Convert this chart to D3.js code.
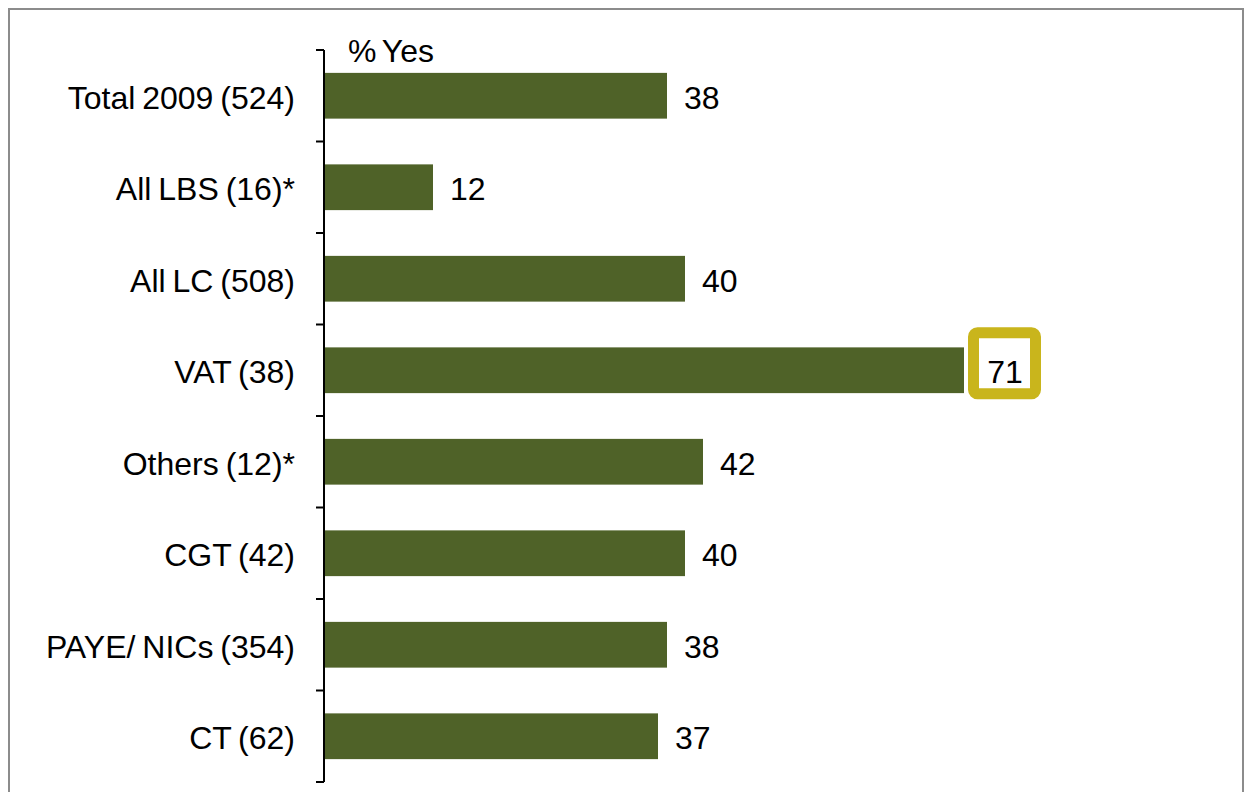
<!DOCTYPE html>
<html><head><meta charset="utf-8">
<script src="https://cdn.jsdelivr.net/npm/d3@7"></script>
<style>body{margin:0;background:#fff}svg{display:block}text{font-family:"Liberation Sans",Arial,sans-serif}</style>
</head><body>
<script>
const categories = ["Total 2009 (524)","All LBS (16)*","All LC (508)","VAT (38)","Others (12)*","CGT (42)","PAYE/ NICs (354)","CT (62)"];
const values = [38,12,40,71,42,40,38,37];
const highlighted = ["VAT (38)"];
const axisTitle = "% Yes";

const W=1250,H=792,FS=32;
const svg=d3.select("body").append("svg").attr("width",W).attr("height",H);
svg.append("rect").attr("x",9).attr("y",9).attr("width",1234).attr("height",820)
  .attr("fill","none").attr("stroke","#8c8c8c").attr("stroke-width",2);

const x=d3.scaleLinear().domain([0,100]).range([325,1225]);
const y=d3.scaleBand().domain(categories).range([50,782]).paddingInner(0.5).paddingOuter(0.25);

const step=y.step();
const bounds=d3.range(categories.length+1).map(i=>50+i*step);
svg.append("line").attr("x1",324).attr("x2",324).attr("y1",50).attr("y2",782).attr("stroke","#000").attr("stroke-width",2);
svg.selectAll(".tk").data(bounds).enter().append("line").attr("x1",316).attr("x2",324)
  .attr("y1",d=>d).attr("y2",d=>d).attr("stroke","#000").attr("stroke-width",2);

svg.selectAll(".bar").data(categories).enter().append("rect")
  .attr("x",x(0)).attr("y",d=>y(d)).attr("height",y.bandwidth())
  .attr("width",(d,i)=>x(values[i])-x(0)).attr("fill","#4f6228");

svg.selectAll(".cat").data(categories).enter().append("text")
  .attr("x",295).attr("y",d=>y(d)+y.bandwidth()/2+13)
  .attr("text-anchor","end").attr("font-size",FS).attr("word-spacing",-2).attr("fill","#000").text(d=>d);

categories.forEach((c,i)=>{
  const v=values[i];
  const cy=y(c)+y.bandwidth()/2;
  if(highlighted.includes(c)){
    svg.append("rect").attr("x",x(v)+9.5).attr("y",cy-37.5).attr("width",62).attr("height",61)
      .attr("rx",4).attr("fill","#fff").attr("stroke","#c9b51c").attr("stroke-width",11);
    svg.append("text").attr("x",x(v)+41).attr("y",cy+13).attr("text-anchor","middle")
      .attr("font-size",FS).text(v);
  } else {
    svg.append("text").attr("x",x(v)+17).attr("y",cy+13)
      .attr("font-size",FS).text(v);
  }
});

svg.append("text").attr("x",348).attr("y",62).attr("font-size",FS).attr("word-spacing",-3).text(axisTitle);
</script>
</body></html>
